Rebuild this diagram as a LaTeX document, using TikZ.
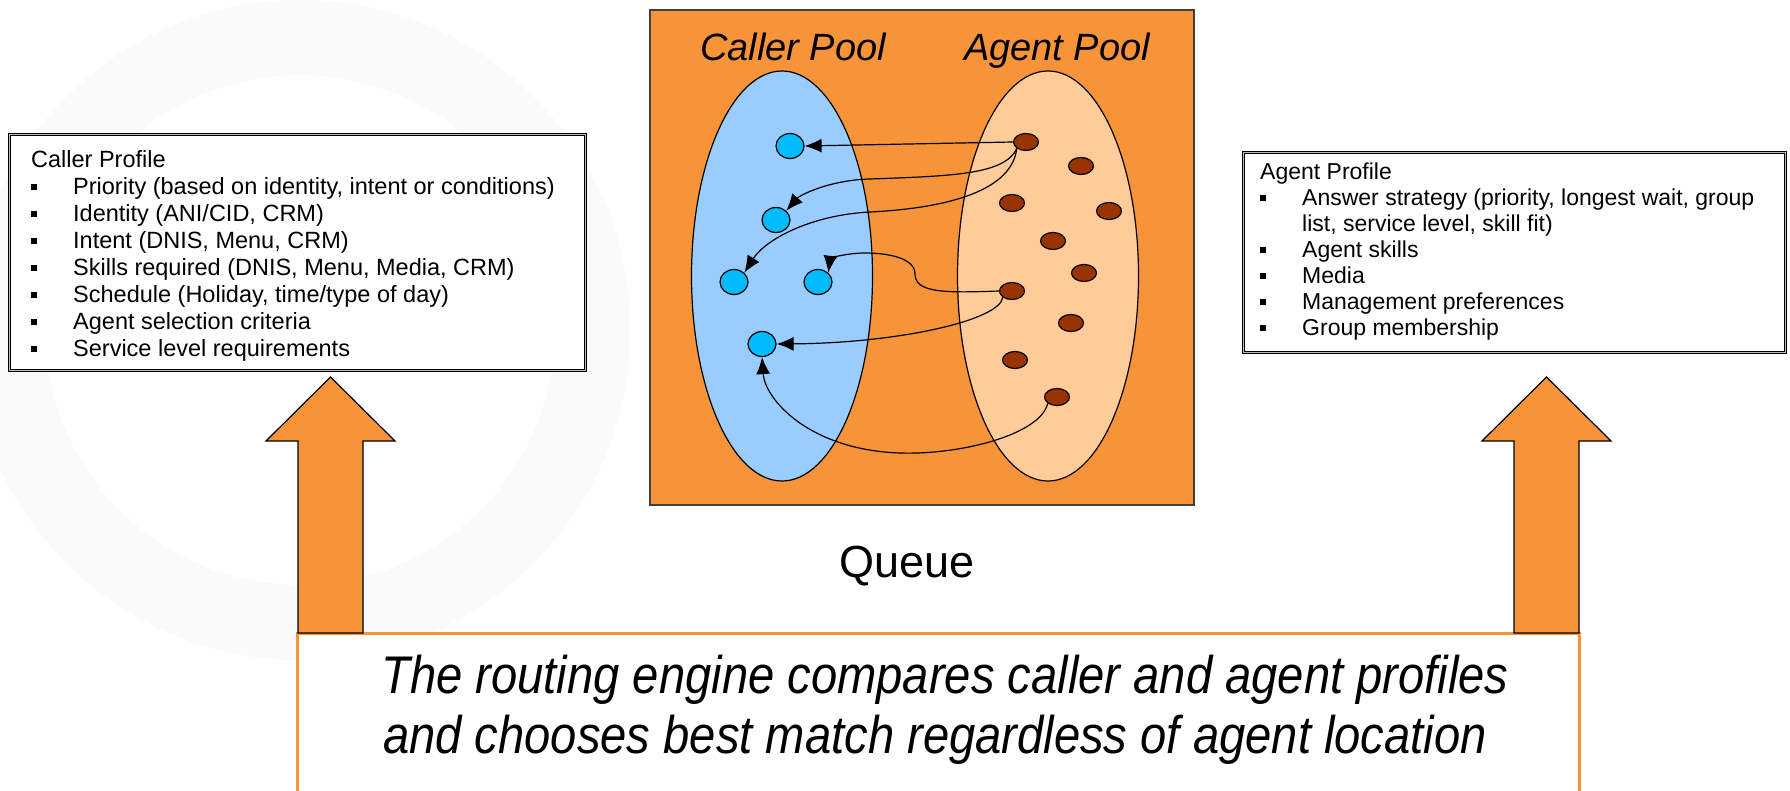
\documentclass[tikz,border=0pt]{standalone}
\usepackage{fontspec}
\setmainfont{Liberation Sans}
\newfontfamily\narrowsans[FakeStretch=0.89]{Liberation Sans}
\usepackage{tikz}
\usetikzlibrary{arrows.meta}
\usetikzlibrary{shapes.geometric}

\definecolor{qorange}{RGB}{247,148,58}
\definecolor{callerblue}{RGB}{153,204,255}
\definecolor{agentpeach}{RGB}{255,204,153}
\definecolor{callerdot}{RGB}{0,187,255}
\definecolor{agentdot}{RGB}{153,51,0}

% square bullet followed by the item indent
\newcommand{\bul}{\makebox[42pt][l]{\rule[5pt]{6pt}{6pt}}}

\begin{document}
\begin{tikzpicture}
	[x=1pt,y=-1pt,
	profbox/.style={draw,line width=1.1pt,double=gray!55,double distance=0.9pt,fill=white},
	proftext/.style={anchor=north west,inner sep=0pt,align=left,font=\fontsize{23.5}{27}\selectfont},
	pool/.style={ellipse,draw,line width=1.2pt,minimum width=181pt,minimum height=410pt},
	poollabel/.style={anchor=base,font=\fontsize{38}{44}\selectfont\itshape},
	cdot/.style={ellipse,draw,line width=1.2pt,fill=callerdot,inner sep=0pt,minimum width=28pt,minimum height=25pt},
	adot/.style={ellipse,draw,line width=1.2pt,fill=agentdot,inner sep=0pt,minimum width=25pt,minimum height=17pt},
	route/.style={line width=1.2pt,-{Latex[length=17pt,width=14pt]}},
	blockarrow/.style={draw,line width=1.2pt,fill=qorange,line join=miter},
	bottomtext/.style={anchor=base,font=\narrowsans\itshape\fontsize{53}{60}\selectfont}]
	\useasboundingbox (0,0) rectangle (1790,791);
	\fill[white] (0,0) rectangle (1790,791);
	
	% faint swirl in the background
	\fill[gray!4,even odd rule] (300,330) circle[radius=330] (300,330) circle[radius=255];
	\fill[white] (650,0) rectangle (1790,791);
	
	% profile boxes
	\node[profbox,minimum width=576pt,minimum height=236pt] (callerbox) at (297.5,252.5) {};
	\node[proftext] (callertext) at (31,150.5) {Caller Profile\\
		\bul Priority (based on identity, intent or conditions)\\
		\bul Identity (ANI/CID, CRM)\\
		\bul Intent (DNIS, Menu, CRM)\\
		\bul Skills required (DNIS, Menu, Media, CRM)\\
		\bul Schedule (Holiday, time/type of day)\\
		\bul Agent selection criteria\\
		\bul Service level requirements};
	
	\node[profbox,minimum width=542pt,minimum height=200pt] (agentbox) at (1514.5,252.5) {};
	\node[proftext,font=\fontsize{23}{26}\selectfont] (agenttext) at (1260,163) {Agent Profile\\
		\bul Answer strategy (priority, longest wait, group\\
		\hspace*{42pt}list, service level, skill fit)\\
		\bul Agent skills\\
		\bul Media\\
		\bul Management preferences\\
		\bul Group membership};
	
	% the queue with both pools
	\node[draw=black!75,line width=1.3pt,fill=qorange,minimum width=544pt,minimum height=495pt] (queuebox) at (922,257.5) {};
	\node[pool,fill=callerblue] (callerpool) at (782,276) {};
	\node[pool,fill=agentpeach] (agentpool) at (1048,276) {};
	\node[poollabel] (callerlbl) at (793,61) {Caller Pool};
	\node[poollabel] (agentlbl) at (1057,61) {Agent Pool};
	\node[anchor=base,font=\fontsize{45}{50}\selectfont] (queuelbl) at (907,577) {Queue};
	
	\foreach \n/\x/\y in {c1/790/146, c2/776/220, c3/734/282, c4/818/282, c5/762/344}
		\node[cdot] (\n) at (\x,\y) {};
	\foreach \n/\x/\y in {a1/1026/142, a2/1081/166, a3/1012/203, a4/1109/211, a5/1053/241,
		a6/1084/273, a7/1012/291, a8/1071/323, a9/1015/360, a10/1057/397}
		\node[adot] (\n) at (\x,\y) {};
	
	% routing of agents to callers
	\draw[route] (a1.west) -- (c1.east);
	\draw[route] (a1.south west) .. controls (1005,175) and (950,176) .. (870,179)
		.. controls (830,180) and (800,195) .. (c2.north east);
	\draw[route] (a1.south west) .. controls (1012,190) and (950,208) .. (870,212)
		.. controls (810,215) and (765,240) .. (c3.north east);
	\draw[route] (a7.west) .. controls (945,293) and (915,293) .. (915,274)
		.. controls (915,258) and (888,253) .. (865,253)
		.. controls (845,253) and (830,259) .. (c4.north east);
	\draw[route] (a7.south west) .. controls (1000,320) and (900,343) .. (c5.east);
	\draw[route] (a10.south west) .. controls (1040,435) and (960,455) .. (900,453)
		.. controls (810,450) and (765,400) .. (c5.south);
	
	% engine box and the two block arrows
	\fill[white] (297,633) rectangle (1579,791);
	\draw[qorange,line width=3pt] (297,791) -- (297,633) -- (1579,633) -- (1579,791);
	\node[bottomtext] (engine1) at (945,693) {The routing engine compares caller and agent profiles};
	\node[bottomtext] (engine2) at (935,753) {and chooses best match regardless of agent location};
	
	\foreach \x in {330.5,1546.5}
		\draw[blockarrow,shift={(\x,633)}] (-32.5,0) -- (-32.5,-192) -- (-64.5,-192) -- (0,-256)
			-- (64.5,-192) -- (32.5,-192) -- (32.5,0) -- cycle;
\end{tikzpicture}
\end{document}
